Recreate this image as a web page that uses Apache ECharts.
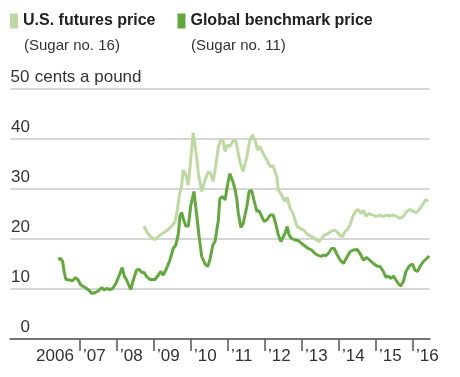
<!DOCTYPE html>
<html>
<head>
<meta charset="utf-8">
<script src="https://cdn.jsdelivr.net/npm/echarts@6/dist/echarts.min.js"></script>
<style>
  html, body { margin: 0; padding: 0; background: #fff; }
  #sugar { width: 460px; height: 377px; }
</style>
</head>
<body>
<div id="sugar"></div>
<script>
// Datas (years as decimals, cents a pound)
const globalYears = [
  2006.41, 2006.48, 2006.53, 2006.57, 2006.62, 2006.73, 2006.79, 2006.88, 2006.95, 2007.02,
  2007.14, 2007.25, 2007.32, 2007.41, 2007.49, 2007.59, 2007.65, 2007.72, 2007.81, 2007.88,
  2007.97, 2008.08, 2008.14, 2008.20, 2008.26, 2008.31, 2008.37, 2008.44, 2008.53, 2008.60,
  2008.67, 2008.73, 2008.80, 2008.89, 2009.03, 2009.12, 2009.18, 2009.25, 2009.34, 2009.43,
  2009.52, 2009.59, 2009.66, 2009.70, 2009.75, 2009.79, 2009.86, 2009.93, 2009.99, 2010.08,
  2010.15, 2010.22, 2010.29, 2010.38, 2010.45, 2010.51, 2010.59, 2010.65, 2010.74, 2010.78,
  2010.86, 2010.92, 2010.98, 2011.05, 2011.13, 2011.19, 2011.24, 2011.28, 2011.35, 2011.41,
  2011.51, 2011.57, 2011.64, 2011.70, 2011.78, 2011.84, 2011.91, 2011.98, 2012.05, 2012.14,
  2012.22, 2012.29, 2012.36, 2012.43, 2012.54, 2012.60, 2012.65, 2012.72, 2012.81, 2012.90,
  2012.99, 2013.08, 2013.17, 2013.26, 2013.35, 2013.42, 2013.51, 2013.58, 2013.64, 2013.71,
  2013.80, 2013.87, 2013.94, 2014.03, 2014.12, 2014.21, 2014.30, 2014.39, 2014.49, 2014.57,
  2014.66, 2014.75, 2014.84, 2014.93, 2015.02, 2015.11, 2015.20, 2015.27, 2015.33, 2015.40,
  2015.47, 2015.54, 2015.60, 2015.67, 2015.74, 2015.81, 2015.90, 2015.99, 2016.05, 2016.12,
  2016.19, 2016.28, 2016.37, 2016.44
]
const globalPrice = [
  15.9, 16.1, 15.5, 13.5, 11.9, 11.8, 11.6, 12.3, 11.8, 10.8,
  10.3, 9.7, 9.1, 9.3, 9.6, 10.3, 9.8, 10.1, 9.9, 10.1,
  11.1, 13.1, 14.3, 12.5, 11.8, 11.5, 9.9, 11.8, 13.8, 13.9,
  13.3, 13.3, 12.5, 11.9, 11.9, 12.8, 13.5, 12.8, 14.1, 15.8,
  18.1, 18.8, 21.1, 24.5, 25.3, 24.1, 22.6, 22.6, 26.5, 29.5,
  25.1, 20.5, 16.5, 15.0, 14.5, 15.8, 18.8, 19.5, 23.8, 28.1,
  28.5, 27.8, 30.5, 33.1, 31.5, 30.0, 27.8, 25.1, 22.3, 23.1,
  26.5, 29.5, 29.7, 27.8, 25.5, 25.7, 24.5, 23.5, 23.8, 24.8,
  24.8, 23.1, 20.8, 19.5, 21.1, 22.5, 20.8, 20.1, 19.8, 19.7,
  19.1, 18.6, 18.1, 17.8, 17.1, 16.8, 16.5, 16.8, 16.6, 17.1,
  18.1, 18.1, 17.0, 15.8, 15.1, 16.3, 17.5, 17.8, 17.9, 17.1,
  15.8, 16.3, 15.7, 15.1, 14.6, 14.5, 13.5, 12.3, 12.6, 12.1,
  12.6, 11.8, 11.1, 10.6, 11.5, 13.5, 14.6, 15.0, 13.8, 13.5,
  14.5, 15.5, 16.1, 16.6
]
const usYears = [
  2008.73, 2008.80, 2008.89, 2009.00, 2009.07, 2009.16, 2009.27, 2009.39, 2009.48, 2009.57,
  2009.63, 2009.68, 2009.75, 2009.79, 2009.86, 2009.93, 2009.99, 2010.06, 2010.14, 2010.20,
  2010.29, 2010.38, 2010.47, 2010.53, 2010.60, 2010.68, 2010.74, 2010.80, 2010.86, 2010.92,
  2010.98, 2011.05, 2011.14, 2011.22, 2011.26, 2011.32, 2011.41, 2011.51, 2011.59, 2011.66,
  2011.73, 2011.80, 2011.86, 2011.95, 2012.05, 2012.14, 2012.22, 2012.32, 2012.36, 2012.45,
  2012.54, 2012.60, 2012.68, 2012.76, 2012.86, 2012.95, 2013.04, 2013.13, 2013.22, 2013.31,
  2013.40, 2013.46, 2013.53, 2013.60, 2013.69, 2013.78, 2013.87, 2013.94, 2014.03, 2014.10,
  2014.16, 2014.22, 2014.30, 2014.37, 2014.46, 2014.52, 2014.59, 2014.66, 2014.73, 2014.82,
  2014.91, 2015.00, 2015.09, 2015.20, 2015.29, 2015.38, 2015.47, 2015.56, 2015.65, 2015.74,
  2015.83, 2015.92, 2016.01, 2016.10, 2016.19, 2016.28, 2016.35, 2016.41
]
const usPrice = [
  22.6, 21.5, 20.6, 19.9, 20.1, 20.8, 21.3, 21.9, 22.6, 23.5,
  25.8, 28.5, 30.8, 33.8, 32.8, 30.8, 35.8, 41.2, 37.1, 33.1,
  29.5, 31.8, 33.5, 33.1, 31.5, 35.1, 38.5, 39.7, 39.8, 37.5,
  38.8, 38.5, 39.7, 39.5, 37.8, 35.5, 33.5, 36.5, 39.8, 40.8,
  39.8, 37.8, 38.5, 37.1, 35.8, 34.5, 34.6, 32.5, 29.8, 28.8,
  27.5, 28.3, 26.1, 25.1, 22.6, 22.1, 21.8, 21.1, 20.6, 20.3,
  19.8, 19.5, 20.1, 20.8, 21.0, 21.5, 21.8, 21.5, 20.7, 20.5,
  21.5, 21.8, 22.8, 24.5, 25.7, 25.9, 25.1, 25.7, 24.6, 25.1,
  24.8, 24.5, 24.8, 24.5, 24.8, 24.6, 24.8, 24.5, 24.1, 24.5,
  25.5, 25.9, 25.5, 25.3, 26.1, 27.1, 27.9, 27.5
]
// Tick labels
const tickYears = [2007, 2008, 2009, 2010, 2011, 2012, 2013, 2014, 2015, 2016]
const labelYears = [2005.73, 2007, 2008, 2009, 2010, 2011, 2012, 2013, 2014, 2015, 2016]
const yearLabels = ['2006', '\u201907', '\u201908', '\u201909', '\u201910', '\u201911', '\u201912', '\u201913', '\u201914', '\u201915', '\u201916']

const LIGHT = '#bcd9a0'
const DARK = '#62a93d'
const FONT = '"Liberation Sans", Arial, sans-serif'

const pairs = (xs, ys) => xs.map((x, i) => [x, ys[i]])

const chart = echarts.init(document.getElementById('sugar'))
chart.setOption({
  animation: false,
  textStyle: { fontFamily: FONT },
  title: [
    { text: '(Sugar no. 16)', left: 24, top: 38, padding: 0, textStyle: { fontSize: 15, fontWeight: 'normal', color: '#333' } },
    { text: '(Sugar no. 11)', left: 191, top: 38, padding: 0, textStyle: { fontSize: 15, fontWeight: 'normal', color: '#333' } },
  ],
  legend: {
    left: 10,
    top: 13,
    padding: 0,
    icon: 'rect',
    itemWidth: 8,
    itemHeight: 15,
    itemGap: 22,
    selectedMode: false,
    textStyle: { fontSize: 16, fontWeight: 'bold', color: '#222', fontFamily: FONT },
    data: ['U.S. futures price', 'Global benchmark price'],
  },
  grid: {
    left: 10,
    right: 30,
    top: 89,
    bottom: 38,
    containLabel: false,
    outerBoundsMode: 'none',
  },
  xAxis: {
    type: 'value',
    min: 2005.108,
    max: 2016.46,
    splitLine: { show: false },
    axisLine: { onZero: false, lineStyle: { color: '#555', width: 1.5 } },
    axisTick: { customValues: tickYears, length: 12, lineStyle: { color: '#555', width: 1.5 } },
    axisLabel: {
      customValues: labelYears,
      align: 'left',
      margin: 9,
      padding: [0, 0, 0, 3],
      fontSize: 17,
      color: '#333',
      formatter: (v) => yearLabels[labelYears.indexOf(v)],
    },
  },
  yAxis: {
    type: 'value',
    min: 0,
    max: 50,
    interval: 10,
    axisLine: { show: false },
    axisTick: { show: false },
    splitLine: { lineStyle: { color: '#c8c8c8', width: 1.5 } },
    axisLabel: {
      inside: true,
      margin: 0,
      align: 'left',
      verticalAlign: 'bottom',
      padding: [0, 0, 3, 0],
      fontSize: 17,
      color: '#333',
      formatter: (v) => (v === 50 ? '{n|50}{u| cents a pound}' : '{n|' + v + '}'),
      rich: {
        n: { width: 20, align: 'right', fontSize: 17, color: '#333' },
        u: { fontSize: 17, color: '#333' },
      },
    },
  },
  series: [{
    name: 'U.S. futures price',
    type: 'line',
    showSymbol: false,
    color: LIGHT,
    lineStyle: { width: 3, color: LIGHT },
    data: pairs(usYears, usPrice),
  }, {
    name: 'Global benchmark price',
    type: 'line',
    showSymbol: false,
    color: DARK,
    lineStyle: { width: 3, color: DARK },
    data: pairs(globalYears, globalPrice),
  }],
})
</script>
</body>
</html>
